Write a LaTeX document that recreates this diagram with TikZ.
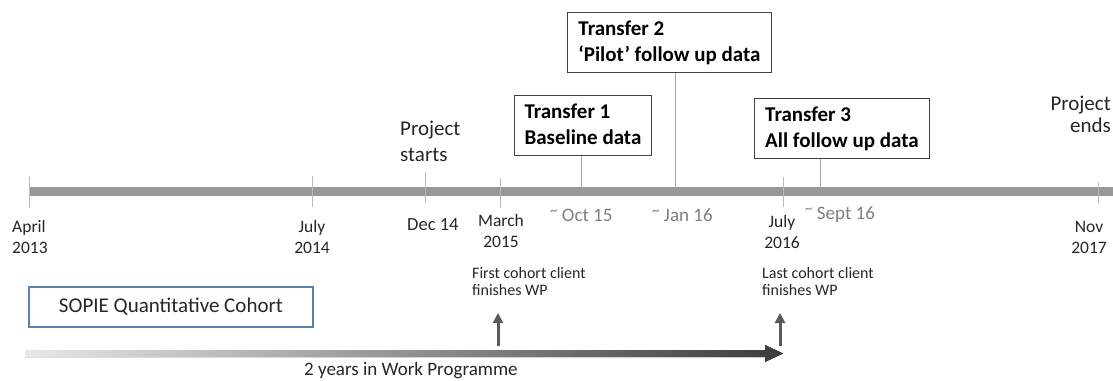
\documentclass[tikz,border=0pt]{standalone}
\usepackage{fontspec}
\setmainfont{Carlito}
\usetikzlibrary{arrows.meta}
\definecolor{txt}{HTML}{262626}
\definecolor{bargray}{HTML}{989898}
\definecolor{tickgray}{HTML}{BBBBBB}
\definecolor{conngray}{HTML}{A6A6A6}
\definecolor{tildegray}{HTML}{7F7F7F}
\definecolor{sopieblue}{HTML}{5A80AE}
\definecolor{arrowgray}{HTML}{595959}
\definecolor{gradlight}{HTML}{E8E8E8}
\definecolor{graddark}{HTML}{3C3C3C}
\newcommand{\mytopstrut}{\rule{0pt}{23.5pt}}
\newcommand{\mybotstrut}{\rule[-10.5pt]{0pt}{10.5pt}}
\newcommand{\approxmark}{{\fontsize{15}{15}\selectfont\raisebox{5.5pt}{\textasciitilde}}}
\begin{document}
\begin{tikzpicture}[x=1pt,y=-1pt,
  date/.style={inner sep=0pt, text=txt, font=\fontsize{17.5}{21}\selectfont},
  big/.style={inner sep=0pt, text=txt, font=\fontsize{21}{26}\selectfont},
  approx/.style={inner sep=0pt, text=tildegray, font=\fontsize{19}{23}\selectfont},
  small/.style={inner sep=0pt, text=txt, font=\fontsize{16}{17}\selectfont, align=left},
  transfer/.style={draw=black!75, line width=0.9pt, inner xsep=9pt, inner ysep=0pt,
    minimum height=60pt, align=left, text=black, font=\bfseries\fontsize{21}{26}\selectfont},
  cohort/.style={draw=sopieblue, line width=1.1pt, inner sep=0pt, minimum width=284pt,
    minimum height=40pt, text=txt, font=\fontsize{21}{26}\selectfont},
  bar/.style={draw=bargray, line width=9.5pt},
  tickline/.style={draw=tickgray, line width=1pt},
  conn/.style={draw=conngray, line width=1pt},
  uparrow/.style={draw=arrowgray, line width=3pt, -{Triangle[width=10pt,length=10pt]}},
  gradarrow/.style={left color=gradlight, right color=graddark, draw=none},
]
\useasboundingbox (0,0) rectangle (1113,380);

% main timeline bar
\coordinate (barL) at (29,191.5);
\coordinate (barR) at (1113,191.5);
\draw[bar] (barL) -- (barR);

% ticks
\coordinate (k1a) at (29,177);   \coordinate (k1b) at (29,208);
\coordinate (k2a) at (312,176);  \coordinate (k2b) at (312,207);
\coordinate (k3a) at (425,172);  \coordinate (k3b) at (425,203);
\coordinate (k4a) at (500,178);  \coordinate (k4b) at (500,208);
\coordinate (k5a) at (783,177);  \coordinate (k5b) at (783,207);
\coordinate (k6a) at (1098,182); \coordinate (k6b) at (1098,203);
\draw[tickline] (k1a) -- (k1b);
\draw[tickline] (k2a) -- (k2b);
\draw[tickline] (k3a) -- (k3b);
\draw[tickline] (k4a) -- (k4b);
\draw[tickline] (k5a) -- (k5b);
\draw[tickline] (k6a) -- (k6b);

% date labels
\node[date, align=left, anchor=north west] (apr) at (12,217.3) {\strut April\\2013};
\node[date, align=center, anchor=north] (jul14) at (312,217.3) {\strut July\\2014};
\node[date, font=\fontsize{18.5}{22}\selectfont, anchor=base west] (dec) at (407,230) {Dec 14};
\node[date, align=center, anchor=north] (mar) at (501,211.3) {\strut March\\2015};
\node[date, align=center, anchor=north] (jul16) at (782,212.3) {\strut July\\2016};
\node[date, align=center, anchor=north] (nov) at (1089,217.3) {\strut Nov\\2017};

\node[big, align=left, anchor=north west] (start) at (400,116.8) {\strut Project\\starts};
\node[big, font=\fontsize{21}{22}\selectfont, align=right, anchor=north east] (end) at (1111,94.6) {\strut Project\\ends};

% approximate dates
\node[approx, anchor=base west] (oct) at (550,221) {\approxmark\ Oct 15};
\node[approx, anchor=base west] (jan) at (652,221) {\approxmark\ Jan 16};
\node[approx, anchor=base west] (sep) at (805,219) {\approxmark\ Sept 16};

% transfer boxes
\node[transfer, anchor=north west, minimum width=137pt] (t1) at (514,95)
  {\mytopstrut Transfer 1\\Baseline data\mybotstrut};
\node[transfer, anchor=north west, minimum width=204pt] (t2) at (567,12)
  {\mytopstrut Transfer 2\\‘Pilot’ follow up data\mybotstrut};
\node[transfer, anchor=north west, minimum width=175pt] (t3) at (754,98)
  {\mytopstrut Transfer 3\\All follow up data\mybotstrut};

\coordinate (c1) at (581,187);
\coordinate (c2) at (675,187);
\coordinate (c3) at (820,187);
\draw[conn] (t1.south -| c1) -- (c1);
\draw[conn] (t2.south -| c2) -- (c2);
\draw[conn] (t3.south -| c3) -- (c3);

% cohort notes
\node[small, anchor=north west] (first) at (472,266.1) {\strut First cohort client\\finishes WP};
\node[small, anchor=north west] (last) at (762,266.1) {\strut Last cohort client\\finishes WP};

\node[cohort] (sopie) at (171,307) {SOPIE Quantitative Cohort};

% gradient arrow
\fill[gradarrow] (25,350) -- (765,350) -- (765,345) -- (783,353.5) -- (765,362) -- (765,357) -- (25,357) -- cycle;

% up arrows
\coordinate (u1s) at (498,346);  \coordinate (u1e) at (498,313);
\coordinate (u2s) at (780,346);  \coordinate (u2e) at (780,313);
\draw[uparrow] (u1s) -- (u1e);
\draw[uparrow] (u2s) -- (u2e);

\node[inner sep=0pt, text=txt, font=\fontsize{19}{23}\selectfont, anchor=base west] (wp) at (304,375) {2 years in Work Programme};
\end{tikzpicture}
\end{document}
